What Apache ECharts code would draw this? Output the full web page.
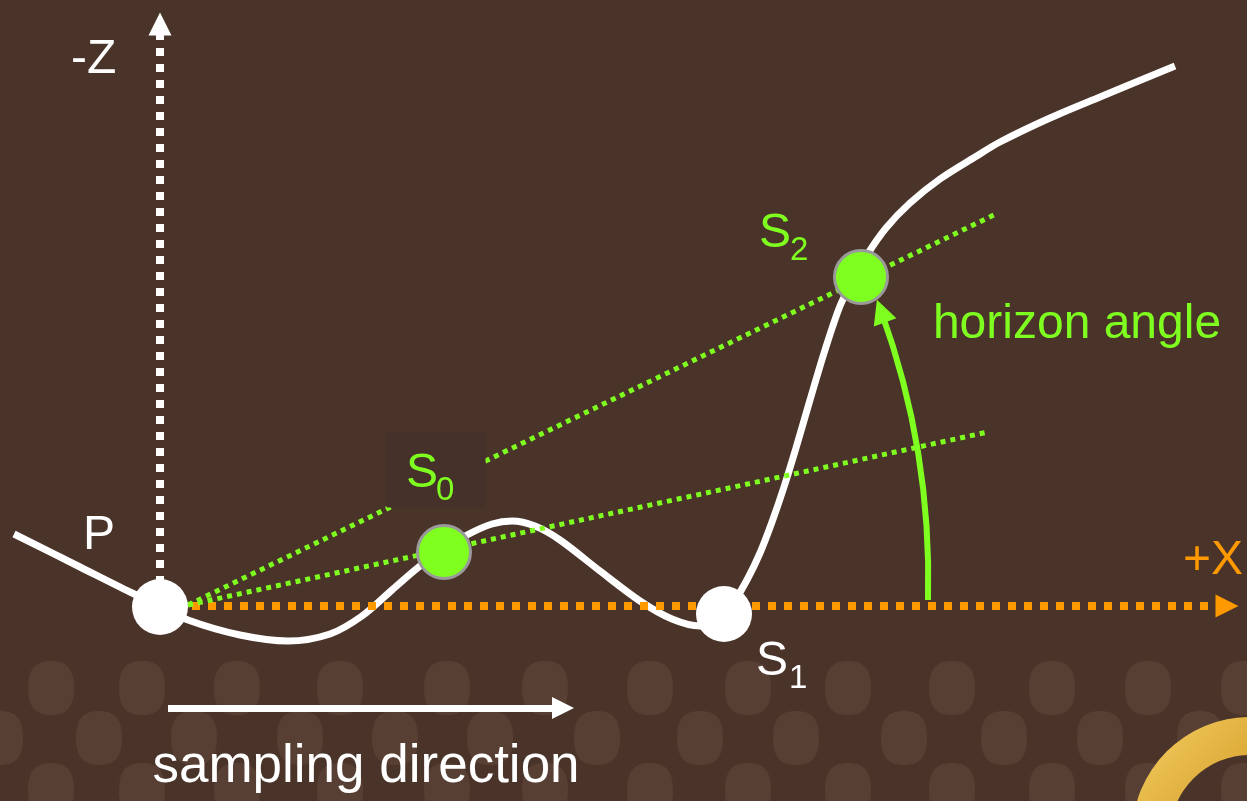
<!DOCTYPE html>
<html><head><meta charset="utf-8">
<script src="https://cdn.jsdelivr.net/npm/echarts@6/dist/echarts.min.js"></script>
<style>html,body{margin:0;padding:0;background:#4a3329;overflow:hidden}#chart{width:1247px;height:801px}</style>
</head><body><div id="chart"></div>
<script>
// ---- data (diagram coordinates, y grows downward) ----
const terrain = [[14,534],[80,567],[130,592],[160,606],[188,620],[240,635],[288,641],[330,634],[362,616],[392,590],[420,566],[445,549],[467,535],[492,524],[512,521],[535,526],[560,540],[600,571],[640,601],[672,619],[700,626],[718,621],[735,600],[748,578],[760,553],[772,522],[784,487],[796,448],[810,400],[825,350],[840,306],[853,280],[867,255],[886,228],[910,203],[940,179],[975,157],[1000,142],[1050,118],[1100,97],[1175,66]];
const whitePoints = [[160,607],[724,614]];
const greenPoints = [[444,552],[861,277]];
const zAxisLine = [[160,600],[160,24]];
const xAxisLine = [[160,606],[1227,606]];
const horizonRays = [[[188,605],[998,213]],[[188,605],[988,432]]];
const horizonArc = [[881,311],[928,600]];
const samplingArrow = [[168,708],[563,708]];
const s0LabelBox = [[436,470]];
const labelTexts = ['-Z','P','S','0','S','1','S','2','horizon angle','+X','sampling direction'];
const labelAnchors = [[71,60],[83,536],[406,474],[436,491],[756,662],[789,679],[759,234],[790,251],[1077,325],[1183,561],[366,767]];
const dotRowA_X = [51,142,237,340,447,545,650,748,848,952,1052,1148,1244];
const dotRowB_X = [0,99,194,300,395,490,597,700,796,904,1004,1100,1200];
const dotRowY = [688,738,790];

// ---- styles ----
const GREEN = '#7fff1f', ORANGE = '#ff9900', WHITE = '#ffffff', BG = '#4a3329';
const FONT = "'Liberation Sans', Arial, sans-serif";
const labelRoles = ['big','big','bigG','subG','big','sub','bigG','subG','bigGText','bigO','huge'];
const roleStyle = {
  big:{color:WHITE,fontSize:48}, sub:{color:WHITE,fontSize:33},
  bigG:{color:GREEN,fontSize:48}, subG:{color:GREEN,fontSize:33},
  bigGText:{color:GREEN,fontSize:48,align:'center'}, bigO:{color:ORANGE,fontSize:48},
  huge:{color:WHITE,fontSize:53,align:'center'}
};

const bgDots = [];
dotRowY.forEach((y,i)=>{ (i%2===0?dotRowA_X:dotRowB_X).forEach(x=>bgDots.push([x,y])); });

const chart = echarts.init(document.getElementById('chart'), null, {renderer:'canvas'});
const dotPath = 'path://M50,0 C85,0 100,15 100,50 C100,85 85,100 50,100 C15,100 0,85 0,50 C0,15 15,0 50,0 Z';
chart.setOption({
  backgroundColor: BG,
  animation: false,
  grid: {left:0,right:0,top:0,bottom:0},
  xAxis: {type:'value',min:0,max:1247,show:false},
  yAxis: {type:'value',min:0,max:801,inverse:true,show:false},
  graphic: [{
    type:'ring', z:10, silent:true,
    shape:{cx:1250,cy:835,r:118,r0:80},
    style:{fill:new echarts.graphic.LinearGradient(0,0,1,1,[
      {offset:0,color:'#f5cf62'},{offset:0.4,color:'#d8a431'},{offset:1,color:'#7a4f12'}])}
  }],
  series: [
    {type:'scatter', z:1, silent:true, symbol:dotPath, symbolSize:[46,54],
     itemStyle:{color:'#573f33',opacity:1}, data:bgDots},
    {type:'line', z:2, silent:true, data:terrain, smooth:0.3, showSymbol:false,
     lineStyle:{color:WHITE,width:7,cap:'butt',opacity:1}},
    {type:'lines', coordinateSystem:'cartesian2d', z:3, silent:true,
     symbol:['none','triangle'], symbolSize:23,
     lineStyle:{color:WHITE,width:8,type:[8,8],opacity:1},
     data:[{coords:zAxisLine}]},
    {type:'lines', coordinateSystem:'cartesian2d', z:3, silent:true,
     symbol:['none','triangle'], symbolSize:23,
     lineStyle:{color:ORANGE,width:8,type:[8,8],opacity:1},
     data:[{coords:xAxisLine}]},
    {type:'lines', coordinateSystem:'cartesian2d', z:3, silent:true,
     symbol:'none',
     lineStyle:{color:GREEN,width:5,type:[5,5],opacity:1},
     data:horizonRays.map(c=>({coords:c}))},
    {type:'scatter', z:4, silent:true, symbol:'rect', symbolSize:[99,75],
     itemStyle:{color:'#46302a',opacity:1}, data:s0LabelBox},
    {type:'lines', coordinateSystem:'cartesian2d', z:5, silent:true,
     symbol:['triangle','none'], symbolSize:24,
     lineStyle:{color:GREEN,width:6,curveness:0.095,opacity:1},
     data:[{coords:horizonArc}]},
    {type:'lines', coordinateSystem:'cartesian2d', z:5, silent:true,
     symbol:['none','triangle'], symbolSize:22,
     lineStyle:{color:WHITE,width:7,opacity:1},
     data:[{coords:samplingArrow}]},
    {type:'scatter', z:6, silent:true, symbolSize:56,
     itemStyle:{color:WHITE,opacity:1}, data:whitePoints},
    {type:'scatter', z:6, silent:true, symbolSize:53,
     itemStyle:{color:GREEN,borderColor:'#9a9a9a',borderWidth:3,opacity:1}, data:greenPoints},
    {type:'scatter', z:7, silent:true, symbolSize:0, itemStyle:{opacity:1},
     data: labelTexts.map((t,i)=>{
       const s = roleStyle[labelRoles[i]];
       return {value:labelAnchors[i], name:t,
         label:{show:true, formatter:t, position:[0,0], align:s.align||'left', verticalAlign:'middle',
           color:s.color, opacity:1, fontSize:s.fontSize, fontFamily:FONT}};
     })}
  ]
});
</script></body></html>
